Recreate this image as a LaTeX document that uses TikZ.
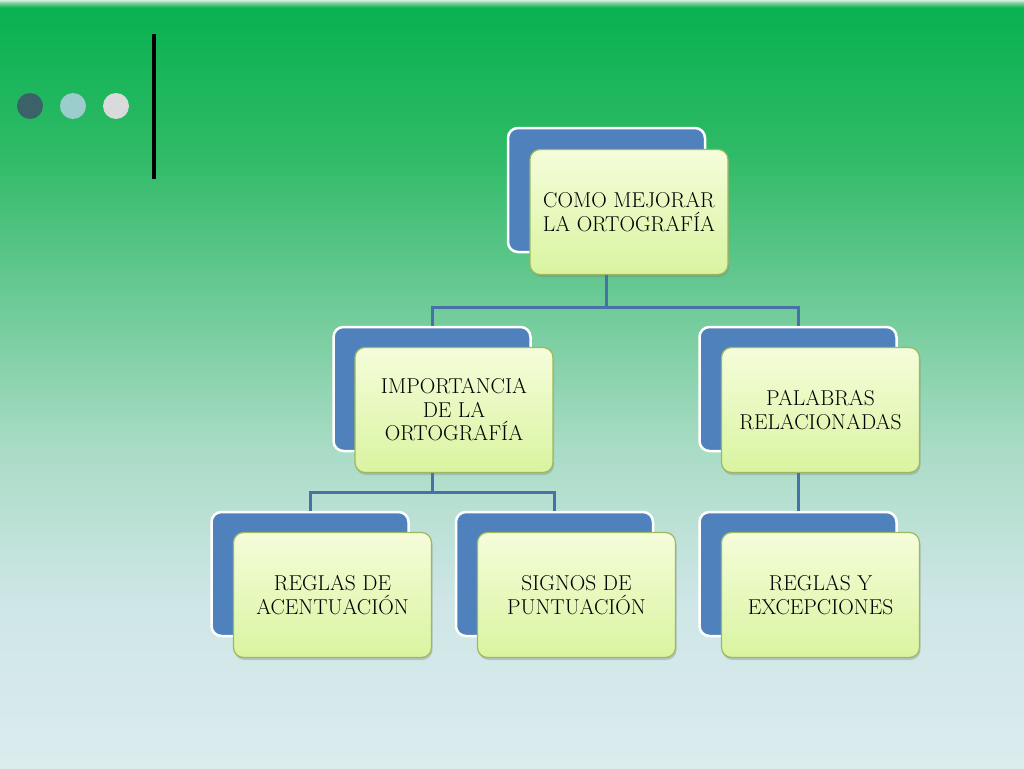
\documentclass[tikz,border=0pt]{standalone}
\usetikzlibrary{shadows}
\definecolor{bluebox}{HTML}{4F81BD}
\definecolor{greentop}{HTML}{F5FDDA}
\definecolor{greenbot}{HTML}{D9F4A0}
\definecolor{greenedge}{HTML}{9DB85E}
\definecolor{linkcol}{HTML}{4672A6}
\definecolor{dotA}{HTML}{3B6169}
\definecolor{dotB}{HTML}{9DCCCD}
\definecolor{dotC}{HTML}{DADADA}
\pgfdeclareverticalshading{slidebg}{100bp}{%
  color(0bp)=(rgb,255:red,220;green,236;blue,238);
  color(25bp)=(rgb,255:red,220;green,236;blue,238);
  color(35.9bp)=(rgb,255:red,206;green,230;blue,230);
  color(45.7bp)=(rgb,255:red,170;green,220;blue,198);
  color(55.5bp)=(rgb,255:red,108;green,202;blue,150);
  color(65.2bp)=(rgb,255:red,46;green,186;blue,102);
  color(74.5bp)=(rgb,255:red,8;green,178;blue,80);
  color(74.8bp)=(rgb,255:red,120;green,210;blue,150);
  color(75bp)=(rgb,255:red,215;green,240;blue,222);
  color(100bp)=(rgb,255:red,215;green,240;blue,222)}
\begin{document}
\begin{tikzpicture}[x=1pt,y=-1pt,
  backbox/.style={draw=white, line width=2.5pt, fill=bluebox, rounded corners=10pt,
    minimum width=197pt, minimum height=124pt, inner sep=0pt},
  frontbox/.style={draw=greenedge, line width=1.2pt, top color=greentop, bottom color=greenbot,
    rounded corners=10pt, minimum width=198pt, minimum height=125pt, inner sep=2pt,
    align=center, font=\fontsize{21.5}{23.5}\selectfont,
    drop shadow={opacity=0.35, shadow xshift=1pt, shadow yshift=-2.5pt}},
  link/.style={draw=linkcol, line width=3pt},
  dot/.style={circle, minimum size=26pt, inner sep=0pt}]
\useasboundingbox (0,0) rectangle (1024,768);
\shade[shading=slidebg] (0,0) rectangle (1024,768);
% decorations
\node[dot, fill=dotA] (d1) at (30,106) {};
\node[dot, fill=dotB] (d2) at (73,106) {};
\node[dot, fill=dotC] (d3) at (116,106) {};
\fill[black] (151.5,34) rectangle (156,179);
% back boxes
\node[backbox] (b1) at (606.5,190) {};
\node[backbox] (b2) at (432,389) {};
\node[backbox] (b3) at (798,389) {};
\node[backbox] (b4) at (310,574) {};
\node[backbox] (b5) at (554.5,574) {};
\node[backbox] (b6) at (798,574) {};
% front boxes
\node[frontbox] (g1) at (629,212) {COMO MEJORAR\\LA ORTOGRAFÍA};
\node[frontbox] (g2) at (454,410) {IMPORTANCIA\\DE LA\\ORTOGRAFÍA};
\node[frontbox] (g3) at (820.5,410) {PALABRAS\\RELACIONADAS};
\node[frontbox] (g4) at (332.5,595) {REGLAS DE\\ACENTUACIÓN};
\node[frontbox] (g5) at (576.5,595) {SIGNOS DE\\PUNTUACIÓN};
\node[frontbox] (g6) at (820.5,595) {REGLAS Y\\EXCEPCIONES};
% connectors
\draw[link] (b1 |- g1.south) -- ++(0,32) -| (b2.north);
\draw[link] (b1 |- g1.south) -- ++(0,32) -| (b3.north);
\draw[link] (b2 |- g2.south) -- ++(0,19) -| (b4.north);
\draw[link] (b2 |- g2.south) -- ++(0,19) -| (b5.north);
\draw[link] (b3 |- g3.south) -- (b6.north);
\end{tikzpicture}
\end{document}
